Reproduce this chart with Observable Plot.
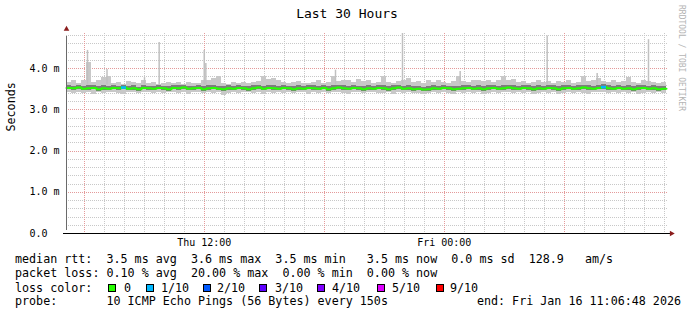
<!DOCTYPE html>
<html><head><meta charset="utf-8">
<script src="https://cdn.jsdelivr.net/npm/d3@7"></script>
<script src="https://cdn.jsdelivr.net/npm/@observablehq/plot@0.6"></script>
<style>
html,body{margin:0;padding:0;background:#fff;}
#wrap{position:relative;width:697px;height:315px;overflow:hidden;font-family:"DejaVu Sans Mono",monospace;color:#000;background:#fff;}
#chart{position:absolute;left:0;top:0;}
.t{position:absolute;white-space:pre;font-size:11.7px;line-height:14px;}
#title{position:absolute;left:0;width:694px;top:6px;text-align:center;font-size:13px;line-height:16px;white-space:pre;}
#wm{position:absolute;left:677px;top:5px;writing-mode:vertical-rl;font-size:8px;color:#b4b4b4;line-height:9px;white-space:pre;}
.sw{position:absolute;width:8px;height:8px;box-sizing:border-box;border:1px solid #000;}
</style></head>
<body>
<div id="wrap">
  <div id="chart"></div>
  <div id="title">Last 30 Hours</div>
  <div id="wm">RRDTOOL / TOBI OETIKER</div>
  <div id="legend"></div>
</div>
<script>
// ---- data (ms), one value per 15-minute sample ----
const med = [
3.53,3.52,3.54,3.51,3.52,3.53,3.50,3.52,3.51,3.53,
3.52,3.54,3.51,3.52,3.50,3.53,3.52,3.51,3.53,3.52,
3.50,3.53,3.52,3.54,3.51,3.52,3.53,3.50,3.52,3.53,
3.51,3.50,3.52,3.51,3.53,3.52,3.50,3.52,3.54,3.51,
3.53,3.52,3.51,3.53,3.52,3.50,3.52,3.51,3.53,3.52,
3.51,3.53,3.50,3.52,3.54,3.52,3.51,3.53,3.52,3.50,
3.52,3.51,3.53,3.52,3.50,3.52,3.54,3.51,3.52,3.50,
3.51,3.49,3.50,3.52,3.51,3.53,3.52,3.50,3.51,3.52,
3.53,3.51,3.52,3.50,3.52,3.53,3.51,3.52,3.54,3.52,
3.51,3.53,3.52,3.50,3.52,3.51,3.53,3.52,3.50,3.52,
3.53,3.51,3.52,3.54,3.52,3.51,3.53,3.55,3.52,3.51,
3.53,3.51,3.52,3.50,3.52,3.53,3.51,3.52,3.50,3.51];
const lo = [
3.42,3.40,3.43,3.39,3.41,3.38,3.42,3.40,3.41,3.43,
3.40,3.38,3.41,3.42,3.39,3.43,3.41,3.40,3.42,3.39,
3.41,3.43,3.40,3.42,3.38,3.41,3.42,3.39,3.41,3.40,
3.42,3.35,3.40,3.42,3.39,3.41,3.43,3.40,3.42,3.38,
3.41,3.39,3.42,3.40,3.43,3.39,3.41,3.42,3.38,3.41,
3.40,3.42,3.39,3.41,3.43,3.40,3.38,3.42,3.41,3.39,
3.41,3.42,3.39,3.40,3.42,3.38,3.41,3.40,3.43,3.39,
3.40,3.37,3.39,3.41,3.40,3.42,3.39,3.38,3.41,3.40,
3.42,3.39,3.41,3.38,3.40,3.42,3.39,3.41,3.43,3.40,
3.41,3.39,3.42,3.38,3.40,3.41,3.39,3.42,3.37,3.40,
3.42,3.39,3.41,3.40,3.38,3.41,3.42,3.43,3.39,3.41,
3.40,3.42,3.39,3.41,3.38,3.40,3.42,3.39,3.41,3.40];
const hi = [
3.66,3.72,3.64,3.70,4.15,3.66,3.70,3.78,3.80,3.64,
3.66,3.62,3.68,3.65,3.63,3.70,3.64,3.66,3.62,3.64,
3.67,3.63,3.65,3.62,3.66,3.64,3.63,3.72,3.70,3.76,
3.80,3.64,3.62,3.66,3.64,3.66,3.63,3.65,3.68,3.80,
3.74,3.76,3.72,3.66,3.64,3.66,3.69,3.64,3.63,3.66,
3.70,3.64,3.66,3.80,3.68,3.72,3.70,3.66,3.74,3.68,
3.72,3.63,3.66,3.80,3.66,3.64,3.68,3.72,3.76,3.66,
3.68,3.64,3.70,3.66,3.72,3.66,3.64,3.68,3.80,3.68,
3.66,3.70,3.72,3.68,3.70,3.66,3.72,3.80,3.72,3.74,
3.66,3.68,3.64,3.66,3.70,3.66,3.68,3.64,3.68,3.66,
3.70,3.64,3.66,3.80,3.68,3.70,3.77,3.68,3.66,3.70,
3.66,3.68,3.78,3.66,3.64,3.70,3.68,3.66,3.64,3.66];
const dhi = [
3.58,3.57,3.60,3.56,3.58,3.59,3.56,3.58,3.57,3.59,
3.57,3.60,3.56,3.58,3.55,3.59,3.57,3.56,3.59,3.57,
3.56,3.59,3.58,3.60,3.56,3.57,3.59,3.57,3.58,3.59,
3.57,3.56,3.58,3.56,3.59,3.57,3.56,3.58,3.60,3.57,
3.59,3.58,3.57,3.59,3.57,3.56,3.58,3.56,3.59,3.58,
3.57,3.59,3.56,3.58,3.60,3.58,3.56,3.59,3.57,3.56,
3.58,3.57,3.59,3.58,3.56,3.58,3.60,3.57,3.58,3.56,
3.57,3.55,3.56,3.58,3.57,3.59,3.57,3.56,3.57,3.58,
3.59,3.57,3.58,3.56,3.58,3.59,3.57,3.58,3.60,3.58,
3.57,3.59,3.58,3.56,3.58,3.57,3.59,3.58,3.56,3.58,
3.59,3.57,3.58,3.60,3.58,3.57,3.59,3.61,3.58,3.57,
3.59,3.57,3.58,3.56,3.58,3.59,3.57,3.58,3.56,3.57];
const dlo = [
3.48,3.47,3.49,3.46,3.47,3.48,3.45,3.47,3.46,3.48,
3.47,3.49,3.46,3.47,3.45,3.48,3.47,3.46,3.48,3.47,
3.45,3.48,3.47,3.49,3.46,3.47,3.48,3.45,3.47,3.48,
3.46,3.44,3.47,3.46,3.48,3.47,3.45,3.47,3.49,3.46,
3.48,3.47,3.46,3.48,3.47,3.45,3.47,3.46,3.48,3.47,
3.46,3.48,3.45,3.47,3.49,3.47,3.46,3.48,3.47,3.45,
3.47,3.46,3.48,3.47,3.45,3.47,3.49,3.46,3.47,3.45,
3.46,3.44,3.45,3.47,3.46,3.48,3.47,3.45,3.46,3.47,
3.48,3.46,3.47,3.45,3.47,3.48,3.46,3.47,3.49,3.47,
3.46,3.48,3.47,3.45,3.47,3.46,3.48,3.47,3.45,3.47,
3.48,3.46,3.47,3.49,3.47,3.46,3.48,3.50,3.47,3.46,
3.48,3.46,3.47,3.45,3.47,3.48,3.46,3.47,3.45,3.46];
// samples with packet loss (sample index, lost pings of 10)
const lossSamples = [{sample: 11, lost: 1}, {sample: 107, lost: 1}];
// isolated RTT spikes (time UTC, top in ms)
const spikeTimes = ["2026-01-15T06:09:48Z","2026-01-15T07:08:18Z","2026-01-15T09:00:48Z","2026-01-15T09:44:48Z",
  "2026-01-15T12:00:00Z","2026-01-15T12:04:48Z","2026-01-15T18:33:48Z","2026-01-15T21:54:48Z",
  "2026-01-16T00:47:48Z","2026-01-16T05:08:48Z","2026-01-16T07:38:48Z","2026-01-16T10:12:48Z"];
const spikeTops = [4.44,3.98,3.78,4.63,4.44,4.12,3.96,4.85,3.93,4.79,3.88,4.70];
// axis ticks
const yTicks = [0,1,2,3,4];
const yTickLabels = ["0.0","1.0 m","2.0 m","3.0 m","4.0 m"];
const xLabelTimes = ["2026-01-15T12:00:00Z","2026-01-16T00:00:00Z"];
const xLabelText = ["Thu 12:00","Fri 00:00"];
// legend
const lossLabels = ["0","1/10","2/10","3/10","4/10","5/10","9/10"];
const lossColors = ["#26ff00","#00b8ff","#0059ff","#5e00ff","#7e00ff","#dd00ff","#ff0000"];

// ---- build ----
const start = new Date(Date.UTC(2026,0,15,5,6,48));
const end = new Date(Date.UTC(2026,0,16,11,6,48));
const xEnd = new Date(+end + 6*60*1000);
const stepMs = 15*60*1000;
const yMax = 4.85;

const rows = med.map((m,i)=>({t1:new Date(+start+i*stepMs), t2:new Date(+start+(i+1)*stepMs),
  med:m, lo:lo[i], hi:hi[i], dlo:dlo[i], dhi:dhi[i]}));
const medLine = rows.map(r=>({t:r.t1, v:r.med})).concat([{t:end, v:med[med.length-1]}]);
const lossRows = lossSamples.map(d=>({...rows[d.sample], color: lossColors[d.lost]}));
const spikes = spikeTimes.map((t,i)=>({t:new Date(t), top:spikeTops[i]}));

const hours = d3.utcHour.range(start, end);
const majorHours = hours.filter(h=>h.getUTCHours()%6===0);
const minorHours = hours.filter(h=>h.getUTCHours()%6!==0);
const yMinor = d3.range(1,25).filter(k=>k%5!==0).map(k=>k/5);
const yMajor = [1,2,3,4];

const dot = "1,1";
const chart = Plot.plot({
  width: 697, height: 250,
  marginLeft: 66, marginRight: 29, marginTop: 33, marginBottom: 17,
  x: {type: "utc", domain: [start, xEnd], axis: null},
  y: {domain: [0, yMax], axis: null},
  style: {fontFamily: "'DejaVu Sans Mono', monospace", fontSize: "10px", background: "white", color: "black", overflow: "visible"},
  marks: [
    Plot.ruleY(yMinor, {stroke: "#c8c8c8", strokeDasharray: dot, shapeRendering: "crispEdges"}),
    Plot.ruleX(minorHours, {stroke: "#c8c8c8", strokeDasharray: dot, shapeRendering: "crispEdges", insetBottom: -2}),
    Plot.ruleY(yMajor, {stroke: "#e49a9a", strokeDasharray: dot, shapeRendering: "crispEdges"}),
    Plot.ruleX(majorHours, {stroke: "#e49a9a", strokeDasharray: dot, shapeRendering: "crispEdges", insetBottom: -2}),
    Plot.rect(rows, {x1: "t1", x2: "t2", y1: "lo", y2: "hi", fill: "#c8c8c8", shapeRendering: "crispEdges"}),
    Plot.ruleX(spikes, {x: "t", y1: 3.6, y2: "top", stroke: "#c0c0c0", strokeWidth: 1.5}),
    Plot.rect(rows, {x1: "t1", x2: "t2", y1: "dlo", y2: "dhi", fill: "#7d7d7d", shapeRendering: "crispEdges"}),
    Plot.line(medLine, {x: "t", y: "v", curve: "step-after", stroke: lossColors[0], strokeWidth: 2}),
    Plot.ruleY(lossRows, {x1: "t1", x2: "t2", y: "med", stroke: "color", strokeWidth: 2.5}),
    // axes
    Plot.ruleX([start], {y1: 0, y2: yMax, stroke: "#6a6a6a", insetTop: -3, insetBottom: -3}),
    Plot.ruleY([0], {stroke: "#000", insetLeft: -3, insetRight: -2}),
    Plot.dot([start], {x: d=>d, y: yMax, dy: -4.5, symbol: "triangle", r: 2.1, fill: "#8b1c1c", stroke: null}),
    Plot.dot([xEnd], {x: d=>d, y: 0, dx: 3, symbol: "triangle", rotate: 90, r: 2.1, fill: "#8b1c1c", stroke: null}),
    Plot.text(yTicks, {x: start, y: d=>d, text: (d,i)=>yTickLabels[i], textAnchor: "start", dx: -37, fill: "#000", fontSize: 10}),
    Plot.text(xLabelTimes, {x: d=>new Date(d), y: 0, text: (d,i)=>xLabelText[i], dy: 9, fill: "#000", fontSize: 10}),
    Plot.text(["Seconds"], {frameAnchor: "left", rotate: -90, dx: -55, dy: -2, fill: "#000", fontSize: 11.7})
  ]
});
document.getElementById("chart").appendChild(chart);

// ---- legend (HTML below the plot) ----
const lg = document.getElementById("legend");
function txt(s, x, y){const d=document.createElement("div");d.className="t";d.textContent=s;d.style.left=x+"px";d.style.top=y+"px";lg.appendChild(d);return d;}
txt("median rtt:  3.5 ms avg  3.6 ms max  3.5 ms min   3.5 ms now  0.0 ms sd  128.9   am/s", 15, 252.3);
txt("packet loss: 0.10 % avg  20.00 % max  0.00 % min  0.00 % now", 15, 266.3);
txt("loss color:", 15, 280.7);
const swX = [108,146,203,259,317,377,436];
const lbX = [124,161,217,275,332,392,450];
lossLabels.forEach((l,i)=>{
  const s=document.createElement("div");s.className="sw";s.style.left=swX[i]+"px";s.style.top="283.7px";s.style.background=lossColors[i];lg.appendChild(s);
  txt(l, lbX[i], 280.7);
});
txt("probe:       10 ICMP Echo Pings (56 Bytes) every 150s", 15, 294);
const e = txt("end: Fri Jan 16 11:06:48 2026", 0, 294);
e.style.left = ""; e.style.right = (697-681)+"px";
</script>
</body></html>
